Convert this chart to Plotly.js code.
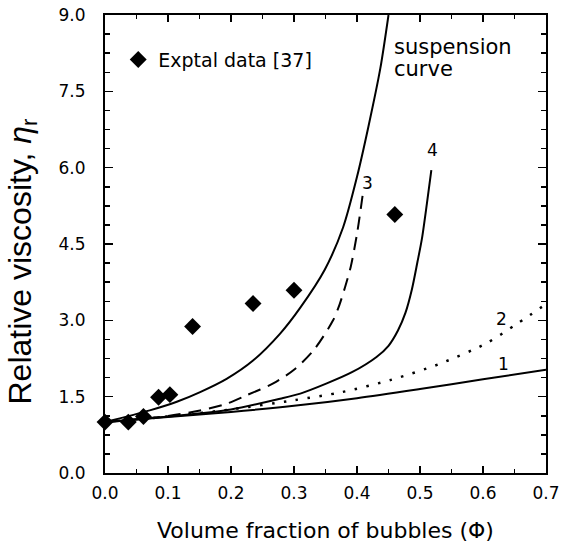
<!DOCTYPE html>
<html>
<head>
<meta charset="utf-8">
<script src="https://cdn.plot.ly/plotly-3.0.1.min.js"></script>
<style>html,body{margin:0;padding:0;background:#fff;}#chart{width:561px;height:552px;}</style>
</head>
<body>
<div id="chart"></div>
<script>
// Experimental data [37]
var expPhi = [0, 0.037, 0.061, 0.085, 0.103, 0.139, 0.235, 0.30, 0.46];
var expEta = [1.0, 1.0, 1.11, 1.49, 1.54, 2.88, 3.33, 3.59, 5.08];

// Curve 1 (solid)
var phi1 = [0, 0.1, 0.2, 0.3, 0.4, 0.5, 0.6, 0.7];
var eta1 = [1.0, 1.1, 1.2, 1.32, 1.47, 1.65, 1.84, 2.03];

// Curve 2 (dotted)
var phi2 = [0, 0.1, 0.2, 0.3, 0.376, 0.454, 0.53, 0.604, 0.655, 0.7];
var eta2 = [1.0, 1.11, 1.25, 1.43, 1.59, 1.83, 2.14, 2.54, 2.94, 3.32];

// Curve 3 (dashed)
var phi3 = [0, 0.1, 0.151, 0.193, 0.225, 0.267, 0.3, 0.331, 0.362, 0.372, 0.381, 0.39, 0.40, 0.41];
var eta3 = [1.0, 1.12, 1.23, 1.36, 1.53, 1.76, 2.03, 2.41, 3.0, 3.3, 3.65, 4.05, 4.7, 5.55];

// Curve 4 (solid)
var phi4 = [0, 0.1, 0.2, 0.278, 0.31, 0.352, 0.392, 0.431, 0.45, 0.465, 0.477, 0.487, 0.496, 0.503, 0.511, 0.518];
var eta4 = [1.0, 1.11, 1.25, 1.46, 1.56, 1.76, 1.98, 2.28, 2.5, 2.8, 3.15, 3.6, 4.15, 4.6, 5.3, 5.95];

// Suspension curve (solid)
var phiS = [0, 0.071, 0.114, 0.151, 0.193, 0.235, 0.278, 0.31, 0.349, 0.378, 0.40, 0.418, 0.437, 0.45];
var etaS = [1.0, 1.23, 1.40, 1.59, 1.85, 2.21, 2.74, 3.25, 4.0, 4.83, 5.82, 6.80, 7.95, 9.0];

// Curve labels
var labelText = ['suspension', 'curve', '3', '4', '2', '1'];
var labelX = [0.4556, 0.4556, 0.416, 0.520, 0.629, 0.633];
var labelY = [8.375, 7.94, 5.70, 6.34, 3.02, 2.14];

var xTicks = [0, 0.1, 0.2, 0.3, 0.4, 0.5, 0.6, 0.7];
var xTickText = ['0.0', '0.1', '0.2', '0.3', '0.4', '0.5', '0.6', '0.7'];
var yTicks = [0, 1.5, 3.0, 4.5, 6.0, 7.5, 9.0];
var yTickText = ['0.0', '1.5', '3.0', '4.5', '6.0', '7.5', '9.0'];

var xTitle = 'Volume fraction of bubbles (Φ)';
var yTitle = 'Relative viscosity, <i>η</i><sub>r</sub>';

var FONT = 'DejaVu Sans, sans-serif';
function curve(x, y, dash, w) {
  return {x: x, y: y, mode: 'lines', showlegend: false, hoverinfo: 'skip',
    line: {color: '#000', width: w || 2, dash: dash, shape: 'spline', smoothing: 0.8}};
}

var traces = [
  curve(phi1, eta1, 'solid'),
  curve(phi2, eta2, '2.5px,9.5px', 2.5),
  curve(phi3, eta3, '13px,8px'),
  curve(phi4, eta4, 'solid'),
  curve(phiS, etaS, 'solid'),
  {x: expPhi, y: expEta, mode: 'markers', name: 'Exptal data [37]', cliponaxis: false,
   marker: {symbol: 'diamond', size: 13, color: '#000'}}
];

var annotations = labelText.map(function (t, i) {
  var big = i < 2;
  return {x: labelX[i], y: labelY[i], xref: 'x', yref: 'y', text: t, showarrow: false,
    xanchor: big ? 'left' : 'center', yanchor: 'middle', align: 'left',
    font: {family: FONT, size: big ? 21 : 17, color: '#000'}};
});
annotations.push({
  x: -0.188, y: 0.462, xref: 'paper', yref: 'paper', text: yTitle, textangle: -90,
  showarrow: false, xanchor: 'center', yanchor: 'middle',
  font: {family: 'Liberation Sans, Arial, sans-serif', size: 32, color: '#000'}
});

var layout = {
  width: 561, height: 552,
  margin: {l: 105, r: 15, t: 15, b: 79, pad: 0},
  paper_bgcolor: '#fff', plot_bgcolor: '#fff',
  font: {family: FONT, color: '#000', size: 17},
  showlegend: true,
  legend: {x: 0.03, y: 0.944, xanchor: 'left', yanchor: 'top', bgcolor: 'rgba(0,0,0,0)',
    font: {family: FONT, size: 19, color: '#000'}},
  xaxis: {
    range: [0, 0.7], tickvals: xTicks, ticktext: xTickText,
    ticks: 'inside', ticklen: 7, tickwidth: 1.5, tickcolor: '#000',
    minor: {dtick: 0.05, ticks: 'inside', ticklen: 4, tickwidth: 1.5, tickcolor: '#000', showgrid: false},
    showline: true, linecolor: '#000', linewidth: 2, mirror: 'ticks',
    showgrid: false, zeroline: false, ticklabelstandoff: 4,
    tickfont: {family: FONT, size: 17},
    title: {text: xTitle, font: {family: FONT, size: 22}, standoff: 20}
  },
  yaxis: {
    range: [0, 9], tickvals: yTicks, ticktext: yTickText,
    ticks: 'inside', ticklen: 8, tickwidth: 1.5, tickcolor: '#000',
    minor: {dtick: 0.375, ticks: 'inside', ticklen: 5, tickwidth: 1.5, tickcolor: '#000', showgrid: false},
    showline: true, linecolor: '#000', linewidth: 2, mirror: 'ticks',
    showgrid: false, zeroline: false, ticklabelstandoff: 14,
    tickfont: {family: FONT, size: 17}
  },
  annotations: annotations
};

Plotly.newPlot('chart', traces, layout, {displayModeBar: false, staticPlot: true});
</script>
</body>
</html>
